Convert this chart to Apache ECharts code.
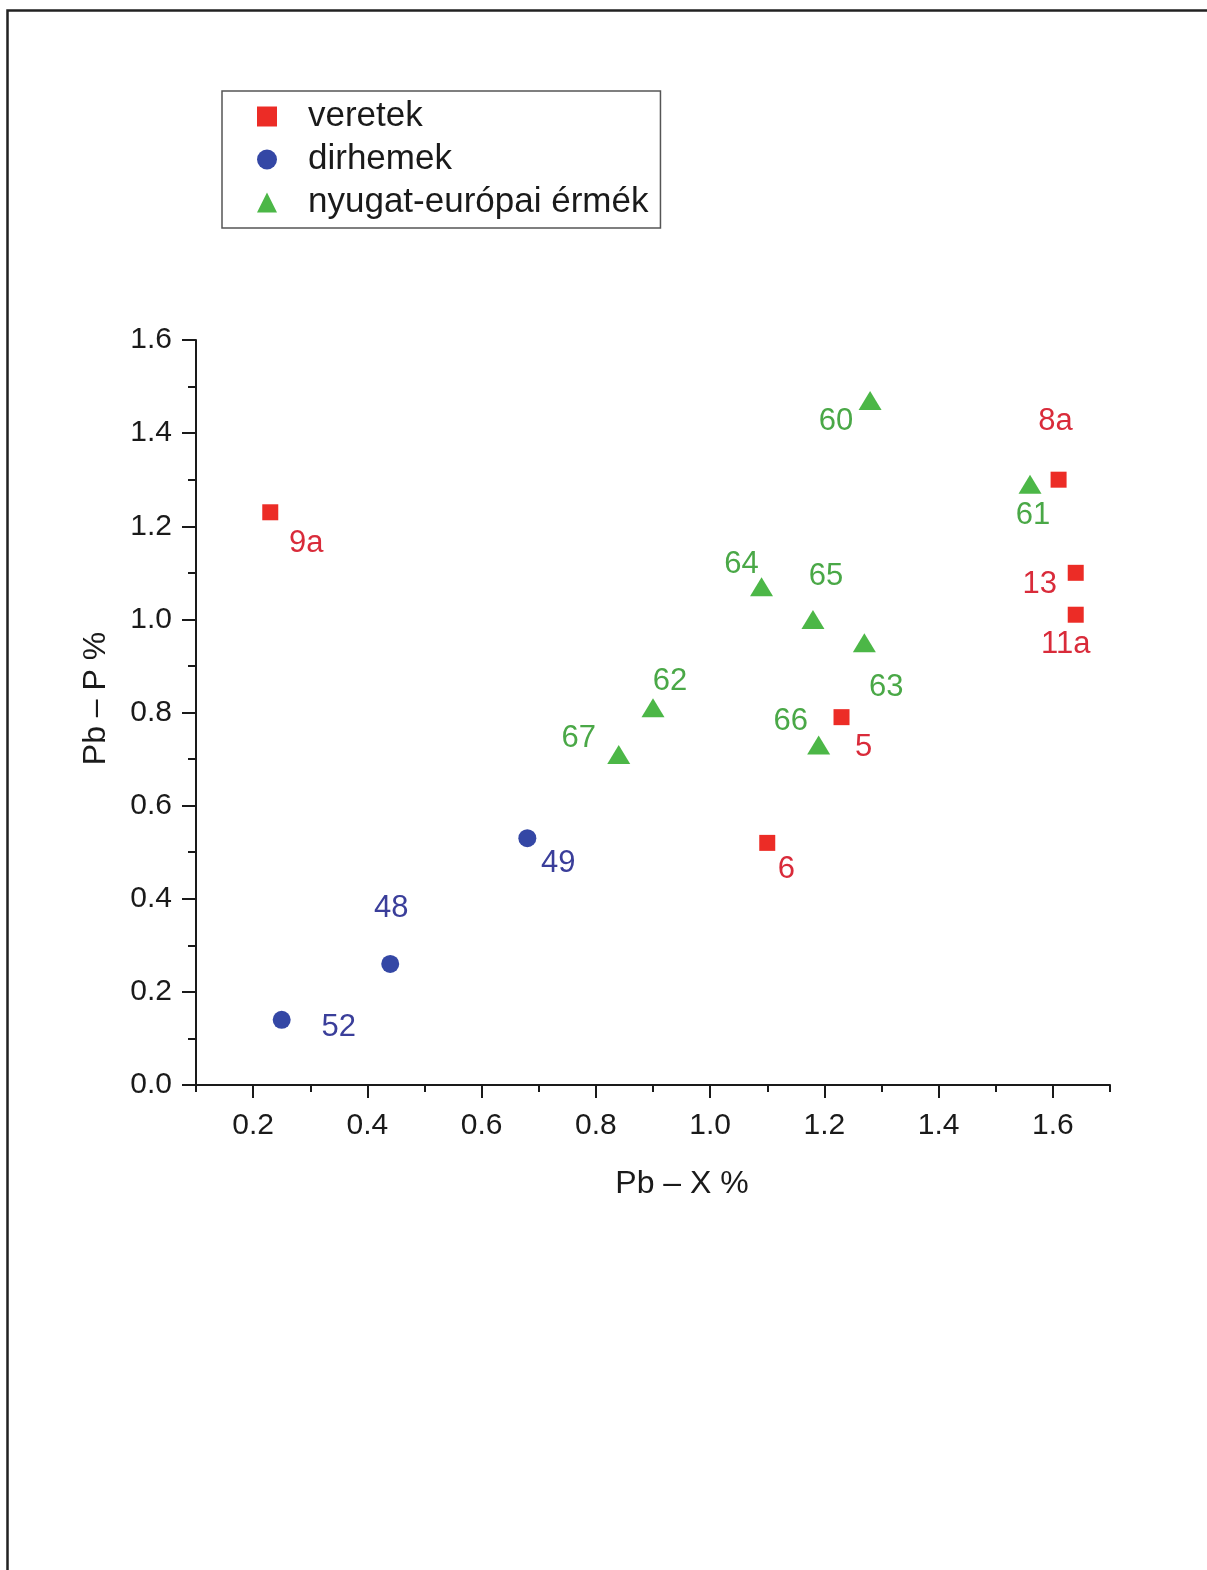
<!DOCTYPE html>
<html><head><meta charset="utf-8">
<script src="https://cdn.jsdelivr.net/npm/echarts@6/dist/echarts.min.js"></script>
<style>html,body{margin:0;padding:0;background:#fff}#c{width:1207px;height:1570px}</style>
</head><body><div id="c"></div>
<script>
// ---- data ----
const seriesNames = ['veretek', 'dirhemek', 'nyugat-európai érmék'];

const veretekLabels = ['9a', '8a', '13', '11a', '5', '6'];
const veretekX = [0.23, 1.61, 1.64, 1.64, 1.23, 1.10];
const veretekY = [1.23, 1.30, 1.10, 1.01, 0.79, 0.52];

const dirhemekLabels = ['52', '48', '49'];
const dirhemekX = [0.25, 0.44, 0.68];
const dirhemekY = [0.14, 0.26, 0.53];

const nyugatLabels = ['60', '61', '64', '65', '63', '62', '67', '66'];
const nyugatX = [1.28, 1.56, 1.09, 1.18, 1.27, 0.90, 0.84, 1.19];
const nyugatY = [1.47, 1.29, 1.07, 1.00, 0.95, 0.81, 0.71, 0.73];

const xMajorTicks = [0.2, 0.4, 0.6, 0.8, 1.0, 1.2, 1.4, 1.6];
const xAxisTitle = 'Pb – X %';
const yAxisTitle = 'Pb – P %';

// ---- label placement (layout only, px offsets from marker centre) ----
const labelOffsets = {
  '9a': [36, 31], '8a': [-3, -58], '13': [-36, 12], '11a': [-10, 30], '5': [22, 30], '6': [19, 27],
  '52': [57, 8], '48': [1, -55], '49': [31, 25],
  '60': [-34, 21], '61': [3, 31], '64': [-20, -22], '65': [13, -43], '63': [22, 45],
  '62': [17, -26], '67': [-40, -16], '66': [-28, -24]
};

const FONT = "'Liberation Sans', Arial, sans-serif";

function build(labels, xs, ys) {
  return labels.map((n, i) => ({
    name: n,
    value: [xs[i], ys[i]],
    label: { offset: labelOffsets[n] || [0, 0] }
  }));
}

function mkSeries(name, symbol, size, color, labelColor, data) {
  return {
    name: name,
    type: 'scatter',
    xAxisIndex: 0, yAxisIndex: 0,
    symbol: symbol,
    symbolSize: size,
    itemStyle: { color: color, opacity: 1 },
    label: {
      show: true, position: 'inside',
      formatter: p => p.name,
      color: labelColor, fontSize: 31, fontFamily: FONT
    },
    emphasis: { disabled: true },
    data: data,
    z: 3
  };
}

const chart = echarts.init(document.getElementById('c'), null, { renderer: 'canvas' });

const axisColor = '#1a1a1a';

chart.setOption({
  backgroundColor: '#ffffff',
  animation: false,
  textStyle: { fontFamily: FONT },
  graphic: [{
    type: 'rect', left: 5, top: 8, z: 0,
    shape: { x: 0, y: 0, width: 1400, height: 1800 },
    style: { fill: null, stroke: '#222', lineWidth: 2.5 }
  }],
  legend: {
    orient: 'vertical', left: 222, top: 91,
    padding: [8, 12, 8, 35],
    itemWidth: 20, itemHeight: 20, itemGap: 8,
    symbolKeepAspect: true,
    borderColor: '#555', borderWidth: 1.5,
    textStyle: { fontSize: 35, color: '#1a1a1a', fontFamily: FONT, padding: [0, 0, 0, 26] },
    data: seriesNames,
    selectedMode: false
  },
  grid: { left: 196, top: 340, width: 914, height: 745, containLabel: false },
  xAxis: [{
    type: 'value', min: 0.1, max: 1.7, interval: 0.1, position: 'bottom',
    axisLine: { show: true, onZero: false, lineStyle: { color: axisColor, width: 2 } },
    axisTick: { show: true, length: 7, lineStyle: { color: axisColor, width: 2 } },
    axisLabel: { show: false },
    splitLine: { show: false }
  }, {
    type: 'value', min: 0.1, max: 1.7, interval: 0.1, position: 'bottom',
    name: xAxisTitle, nameLocation: 'middle', nameGap: 83,
    nameTextStyle: { fontSize: 32, color: '#1a1a1a', fontFamily: FONT, padding: [0, 0, 0, 58] },
    axisLine: { show: false, onZero: false },
    axisTick: { show: true, length: 13, customValues: xMajorTicks, lineStyle: { color: axisColor, width: 2 } },
    axisLabel: { show: true, customValues: xMajorTicks, margin: 26, fontSize: 30, color: '#1a1a1a', fontFamily: FONT,
      formatter: v => Number(v).toFixed(1) },
    splitLine: { show: false }
  }],
  yAxis: [{
    type: 'value', min: 0, max: 1.6, interval: 0.2,
    name: yAxisTitle, nameLocation: 'middle', nameGap: 84,
    nameTextStyle: { fontSize: 32, color: '#1a1a1a', fontFamily: FONT, padding: [0, 0, 0, 28] },
    axisLine: { show: true, onZero: false, lineStyle: { color: axisColor, width: 2 } },
    axisTick: { show: true, length: 14, lineStyle: { color: axisColor, width: 2 } },
    minorTick: { show: true, splitNumber: 2, length: 8, lineStyle: { color: axisColor, width: 2 } },
    axisLabel: { margin: 24, fontSize: 30, color: '#1a1a1a', fontFamily: FONT, formatter: v => v.toFixed(1) },
    splitLine: { show: false },
    minorSplitLine: { show: false }
  }],
  series: [
    mkSeries(seriesNames[0], 'rect', 16, '#ec2c26', '#d92b3a', build(veretekLabels, veretekX, veretekY)),
    mkSeries(seriesNames[1], 'circle', 18, '#3447a5', '#3a3e9a', build(dirhemekLabels, dirhemekX, dirhemekY)),
    mkSeries(seriesNames[2], 'triangle', [23, 19], '#4cb747', '#4aa847', build(nyugatLabels, nyugatX, nyugatY))
  ]
});
</script>
</body></html>
